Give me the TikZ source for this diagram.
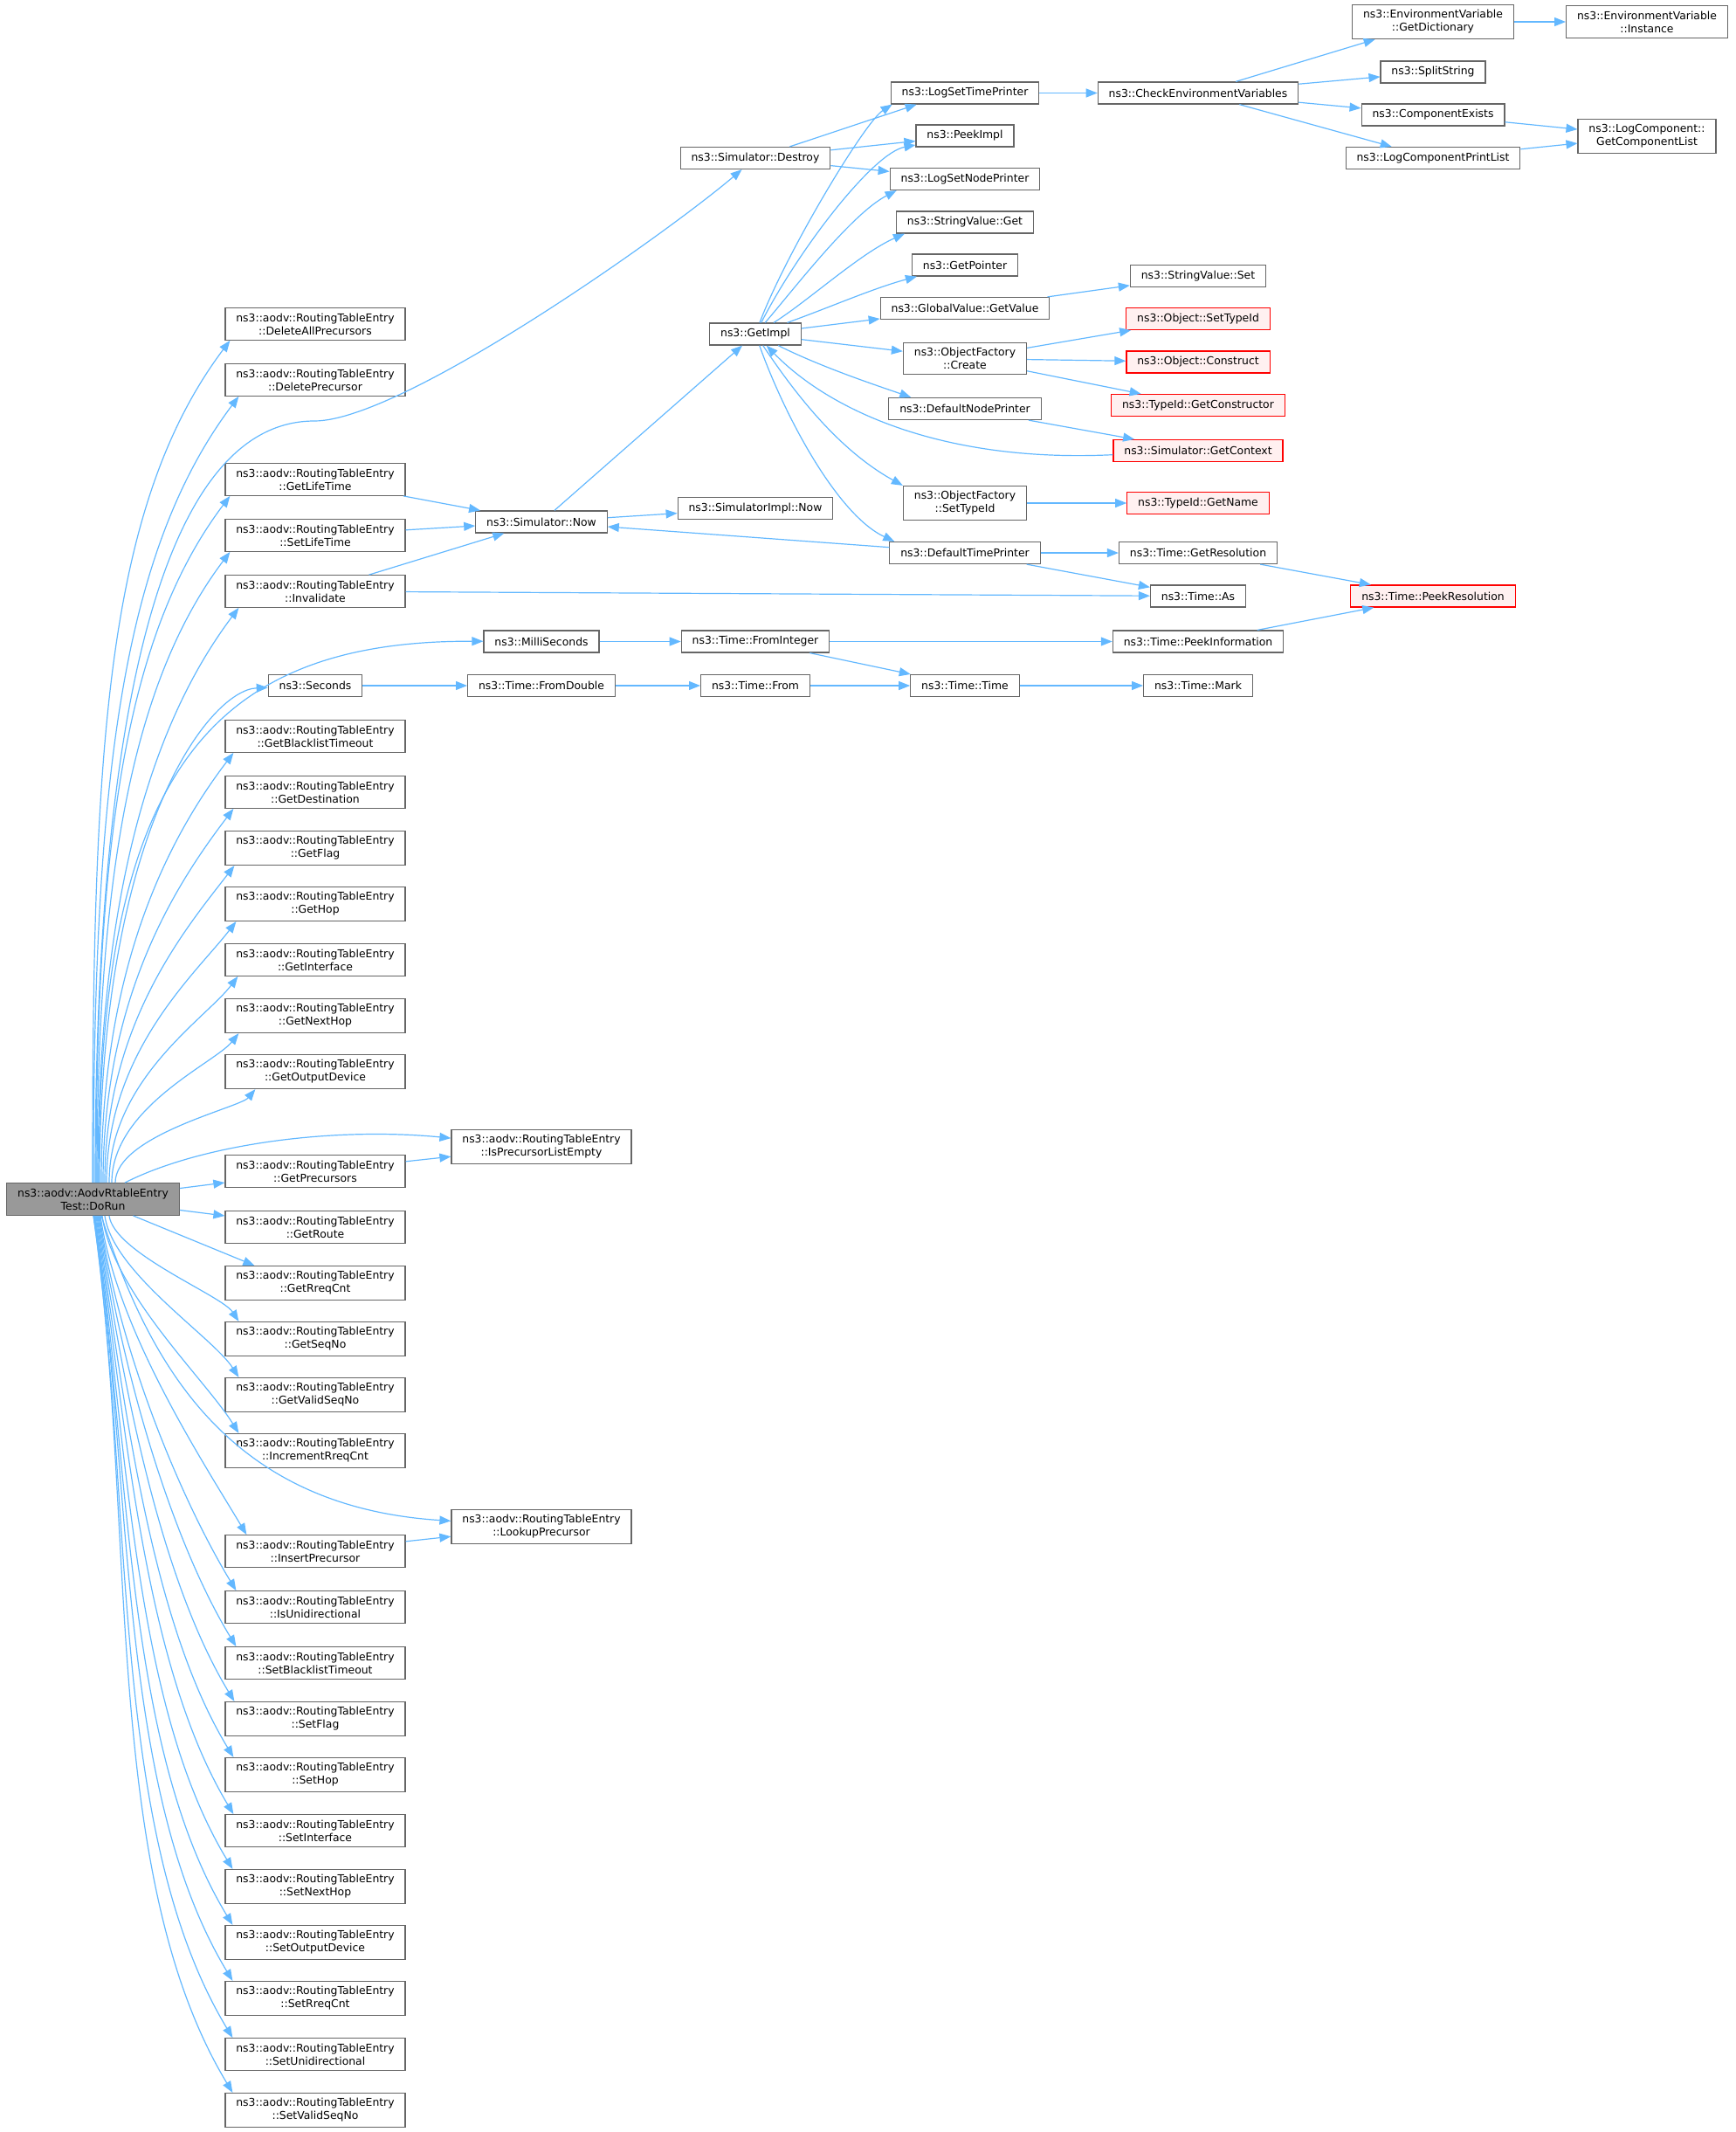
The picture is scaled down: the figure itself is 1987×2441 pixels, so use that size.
\documentclass[tikz,border=0pt]{standalone}
\usepackage{fontspec}
\setmainfont{DejaVu Sans}
\usetikzlibrary{arrows.meta}
\definecolor{edgeblue}{HTML}{63B8FF}
\definecolor{boxgray}{HTML}{666666}
\definecolor{curgray}{HTML}{999999}
\definecolor{redfill}{HTML}{FFF0F0}
\newcommand{\fnsize}{\fontsize{6.2pt}{7.5pt}\selectfont}
\tikzstyle{func} = [rectangle, minimum height=12.5pt, inner xsep=6.2pt, inner ysep=3pt, text centered, align=center, draw=boxgray, line width=0.6pt, fill=white, font=\fnsize]
\tikzstyle{funcred} = [func, draw=red, fill=redfill]
\tikzstyle{current} = [func, fill=curgray]
\tikzstyle{arrow} = [line width=0.6pt, draw=edgeblue, ->, >={Triangle[length=6.5pt,width=5pt]}]

\begin{document}
\begin{tikzpicture}[x=0.5pt, y=-0.5pt, node distance=32pt]
    \useasboundingbox (0,0) rectangle (1987,2441);

    % Nodes
    \node (dorun) [current] at (106.5,1373) {ns3::aodv::AodvRtableEntry\\Test::DoRun};
    \node (delallprec) [func] at (361,371) {ns3::aodv::RoutingTableEntry\\::DeleteAllPrecursors};
    \node (delprec) [func, below of=delallprec] {ns3::aodv::RoutingTableEntry\\::DeletePrecursor};
    \node (getlifetime) [func, below of=delprec, yshift=-25pt] {ns3::aodv::RoutingTableEntry\\::GetLifeTime};
    \node (setlifetime) [func, below of=getlifetime] {ns3::aodv::RoutingTableEntry\\::SetLifeTime};
    \node (invalidate) [func, below of=setlifetime] {ns3::aodv::RoutingTableEntry\\::Invalidate};
    \node (getblacklist) [func, below of=invalidate, yshift=-51pt] {ns3::aodv::RoutingTableEntry\\::GetBlacklistTimeout};
    \node (getdest) [func, below of=getblacklist] {ns3::aodv::RoutingTableEntry\\::GetDestination};
    \node (getflag) [func, below of=getdest] {ns3::aodv::RoutingTableEntry\\::GetFlag};
    \node (gethop) [func, below of=getflag] {ns3::aodv::RoutingTableEntry\\::GetHop};
    \node (getiface) [func, below of=gethop] {ns3::aodv::RoutingTableEntry\\::GetInterface};
    \node (getnexthop) [func, below of=getiface] {ns3::aodv::RoutingTableEntry\\::GetNextHop};
    \node (getoutdev) [func, below of=getnexthop] {ns3::aodv::RoutingTableEntry\\::GetOutputDevice};
    \node (getprec) [func, below of=getoutdev, yshift=-25pt] {ns3::aodv::RoutingTableEntry\\::GetPrecursors};
    \node (getroute) [func, below of=getprec] {ns3::aodv::RoutingTableEntry\\::GetRoute};
    \node (getrreqcnt) [func, below of=getroute] {ns3::aodv::RoutingTableEntry\\::GetRreqCnt};
    \node (getseqno) [func, below of=getrreqcnt] {ns3::aodv::RoutingTableEntry\\::GetSeqNo};
    \node (getvalidseqno) [func, below of=getseqno] {ns3::aodv::RoutingTableEntry\\::GetValidSeqNo};
    \node (incrreqcnt) [func, below of=getvalidseqno] {ns3::aodv::RoutingTableEntry\\::IncrementRreqCnt};
    \node (insertprec) [func, below of=incrreqcnt, yshift=-25.5pt] {ns3::aodv::RoutingTableEntry\\::InsertPrecursor};
    \node (isunidir) [func, below of=insertprec] {ns3::aodv::RoutingTableEntry\\::IsUnidirectional};
    \node (setblacklist) [func, below of=isunidir] {ns3::aodv::RoutingTableEntry\\::SetBlacklistTimeout};
    \node (setflag) [func, below of=setblacklist] {ns3::aodv::RoutingTableEntry\\::SetFlag};
    \node (sethop) [func, below of=setflag] {ns3::aodv::RoutingTableEntry\\::SetHop};
    \node (setiface) [func, below of=sethop] {ns3::aodv::RoutingTableEntry\\::SetInterface};
    \node (setnexthop) [func, below of=setiface] {ns3::aodv::RoutingTableEntry\\::SetNextHop};
    \node (setoutdev) [func, below of=setnexthop] {ns3::aodv::RoutingTableEntry\\::SetOutputDevice};
    \node (setrreqcnt) [func, below of=setoutdev] {ns3::aodv::RoutingTableEntry\\::SetRreqCnt};
    \node (setunidir) [func, below of=setrreqcnt] {ns3::aodv::RoutingTableEntry\\::SetUnidirectional};
    \node (setvalidseqno) [func, below of=setunidir] {ns3::aodv::RoutingTableEntry\\::SetValidSeqNo};
    \node (seconds) [func] at (361,785) {ns3::Seconds};

    \node (isprecempty) [func] at (620,1313) {ns3::aodv::RoutingTableEntry\\::IsPrecursorListEmpty};
    \node (lookupprec) [func] at (620,1748) {ns3::aodv::RoutingTableEntry\\::LookupPrecursor};
    \node (simnow) [func] at (620,597.5) {ns3::Simulator::Now};
    \node (millis) [func] at (620,734.5) {ns3::MilliSeconds};
    \node (fromdouble) [func] at (620,785) {ns3::Time::FromDouble};

    \node (destroy) [func] at (865,181) {ns3::Simulator::Destroy};
    \node (getimpl) [func] at (865,382.5) {ns3::GetImpl};
    \node (implnow) [func] at (865,582) {ns3::SimulatorImpl::Now};
    \node (frominteger) [func] at (865,734.5) {ns3::Time::FromInteger};
    \node (timefrom) [func] at (865,785) {ns3::Time::From};

    \node (logtime) [func] at (1105,106.5) {ns3::LogSetTimePrinter};
    \node (peekimpl) [func] at (1105,155.5) {ns3::PeekImpl};
    \node (lognode) [func] at (1105,205) {ns3::LogSetNodePrinter};
    \node (strget) [func] at (1105,254.5) {ns3::StringValue::Get};
    \node (getpointer) [func] at (1105,303.5) {ns3::GetPointer};
    \node (getvalue) [func] at (1105,353) {ns3::GlobalValue::GetValue};
    \node (ofcreate) [func] at (1105,410.5) {ns3::ObjectFactory\\::Create};
    \node (defnode) [func] at (1105,468) {ns3::DefaultNodePrinter};
    \node (ofsettypeid) [func] at (1105,576) {ns3::ObjectFactory\\::SetTypeId};
    \node (deftime) [func] at (1105,633) {ns3::DefaultTimePrinter};
    \node (timetime) [func] at (1105,785) {ns3::Time::Time};

    \node (checkenv) [func] at (1372,106.5) {ns3::CheckEnvironmentVariables};
    \node (strset) [func] at (1372,316) {ns3::StringValue::Set};
    \node (objsettypeid) [funcred] at (1372,365) {ns3::Object::SetTypeId};
    \node (objconstruct) [funcred] at (1372,414.5) {ns3::Object::Construct};
    \node (getctor) [funcred] at (1372,464) {ns3::TypeId::GetConstructor};
    \node (getcontext) [funcred] at (1372,516) {ns3::Simulator::GetContext};
    \node (getname) [funcred] at (1372,576) {ns3::TypeId::GetName};
    \node (getres) [func] at (1372,633) {ns3::Time::GetResolution};
    \node (timeas) [func] at (1372,682.5) {ns3::Time::As};
    \node (peekinfo) [func] at (1372,734.5) {ns3::Time::PeekInformation};
    \node (timemark) [func] at (1372,785) {ns3::Time::Mark};

    \node (getdict) [func] at (1641,25) {ns3::EnvironmentVariable\\::GetDictionary};
    \node (splitstr) [func] at (1641,82.5) {ns3::SplitString};
    \node (compexists) [func] at (1641,131.5) {ns3::ComponentExists};
    \node (logprintlist) [func] at (1641,181) {ns3::LogComponentPrintList};
    \node (peekres) [funcred] at (1641,682.5) {ns3::Time::PeekResolution};
    \node (envinstance) [func] at (1886,25) {ns3::EnvironmentVariable\\::Instance};
    \node (getcomplist) [func] at (1886,156) {ns3::LogComponent::\\GetComponentList};

    % Arrows from DoRun, upwards
    \draw [arrow] ([xshift=-0.25pt]dorun.north) .. controls (106,872) and (118,583) .. ([xshift=3pt]delallprec.south west);
    \draw [arrow] ([xshift=0.25pt]dorun.north) .. controls (107,904) and (137,635) .. ([xshift=8pt]delprec.south west);
    \draw [arrow] ([xshift=1.25pt]dorun.north) .. controls (109,800) and (190,482) .. (360,482) .. controls (460,482) and (760,270) .. (destroy);
    \draw [arrow] ([xshift=1.75pt]dorun.north) .. controls (110,961) and (144,726) .. ([xshift=3pt]getlifetime.south west);
    \draw [arrow] ([xshift=2.25pt]dorun.north) .. controls (111,993) and (154,777) .. ([xshift=3pt]setlifetime.south west);
    \draw [arrow] ([xshift=2.75pt]dorun.north) .. controls (112,1025) and (174,828) .. ([xshift=8pt]invalidate.south west);
    \draw [arrow] ([xshift=3.25pt]dorun.north) .. controls (113,900) and (230,733) .. (millis);
    \draw [arrow] ([xshift=3.75pt]dorun.north) .. controls (114,950) and (240,790) .. (seconds);
    \draw [arrow] ([xshift=4.75pt]dorun.north) .. controls (116,1108) and (192,961) .. ([xshift=5pt]getblacklist.south west);
    \draw [arrow] ([xshift=5.75pt]dorun.north) .. controls (118,1140) and (202,1012) .. ([xshift=5pt]getdest.south west);
    \draw [arrow] ([xshift=6.75pt]dorun.north) .. controls (120,1172) and (213,1063) .. ([xshift=5.5pt]getflag.south west);
    \draw [arrow] ([xshift=7.75pt]dorun.north) .. controls (122,1204) and (224,1115) .. ([xshift=6.5pt]gethop.south west);
    \draw [arrow] ([xshift=9.25pt]dorun.north) .. controls (125,1236) and (236,1166) .. ([xshift=7.5pt]getiface.south west);
    \draw [arrow] ([xshift=10.75pt]dorun.north) .. controls (128,1268) and (246,1217) .. ([xshift=8pt]getnexthop.south west);
    \draw [arrow] ([xshift=12.75pt]dorun.north) .. controls (132,1300) and (275,1268) .. ([xshift=17.5pt]getoutdev.south west);
    \draw [arrow] ([xshift=18.25pt]dorun.north) .. controls (230,1310) and (380,1290) .. (isprecempty);

    % Arrows from DoRun, to the right and downwards
    \draw [arrow] (dorun) -- (getprec);
    \draw [arrow] (dorun) -- (getroute);
    \draw [arrow] (dorun) -- ([xshift=17pt]getrreqcnt.north west);
    \draw [arrow] ([xshift=9.25pt]dorun.south) .. controls (131,1435) and (254,1483) .. ([xshift=8pt]getseqno.north west);
    \draw [arrow] ([xshift=6.75pt]dorun.south) .. controls (129,1457) and (244,1531) .. ([xshift=8pt]getvalidseqno.north west);
    \draw [arrow] ([xshift=5.25pt]dorun.south) .. controls (129,1480) and (235,1579) .. ([xshift=8pt]incrreqcnt.north west);
    \draw [arrow] ([xshift=4.75pt]dorun.south) .. controls (170,1560) and (260,1725) .. (lookupprec);
    \draw [arrow] ([xshift=4.25pt]dorun.south) .. controls (133,1520) and (227,1665) .. ([xshift=12.5pt]insertprec.north west);
    \draw [arrow] ([xshift=3.75pt]dorun.south) .. controls (135,1542) and (205,1713) .. ([xshift=6.5pt]isunidir.north west);
    \draw [arrow] ([xshift=3.25pt]dorun.south) .. controls (138,1565) and (195,1761) .. ([xshift=6.5pt]setblacklist.north west);
    \draw [arrow] ([xshift=2.75pt]dorun.south) .. controls (140,1587) and (184,1809) .. ([xshift=5.5pt]setflag.north west);
    \draw [arrow] ([xshift=2.25pt]dorun.south) .. controls (142,1610) and (173,1857) .. ([xshift=5pt]sethop.north west);
    \draw [arrow] ([xshift=1.75pt]dorun.south) .. controls (144,1632) and (164,1905) .. ([xshift=5pt]setiface.north west);
    \draw [arrow] ([xshift=1.25pt]dorun.south) .. controls (146,1654) and (153,1953) .. ([xshift=4.5pt]setnexthop.north west);
    \draw [arrow] ([xshift=0.75pt]dorun.south) .. controls (149,1677) and (143,2001) .. ([xshift=4.5pt]setoutdev.north west);
    \draw [arrow] ([xshift=0.75pt]dorun.south) .. controls (152,1699) and (134,2049) .. ([xshift=4.5pt]setrreqcnt.north west);
    \draw [arrow] ([xshift=0.25pt]dorun.south) .. controls (154,1722) and (124,2097) .. ([xshift=4.5pt]setunidir.north west);
    \draw [arrow] ([xshift=0.25pt]dorun.south) .. controls (157,1744) and (115,2145) .. ([xshift=4.5pt]setvalidseqno.north west);

    % Arrows between callees
    \draw [arrow] (getprec) -- (isprecempty);
    \draw [arrow] (insertprec) -- (lookupprec);
    \draw [arrow] (getlifetime) -- (simnow);
    \draw [arrow] (setlifetime) -- (simnow);
    \draw [arrow] (invalidate) -- (simnow);
    \draw [arrow] (invalidate) -- (timeas);
    \draw [arrow] (simnow) -- (getimpl);
    \draw [arrow] (simnow) -- (implnow);
    \draw [arrow] (deftime) -- (simnow);
    \draw [arrow] (destroy) -- ([xshift=15pt]logtime.south west);
    \draw [arrow] (destroy) -- (peekimpl);
    \draw [arrow] (destroy) -- (lognode);

    % Arrows from GetImpl
    \draw [arrow] (getimpl) .. controls (900,290) and (990,140) .. ([xshift=1pt]logtime.south west);
    \draw [arrow] (getimpl) .. controls (915,285) and (1000,175) .. (peekimpl);
    \draw [arrow] (getimpl) .. controls (910,330) and (975,245) .. ([xshift=4pt]lognode.south west);
    \draw [arrow] (getimpl) .. controls (925,345) and (985,290) .. ([xshift=5pt]strget.south west);
    \draw [arrow] (getimpl) .. controls (950,352) and (1000,330) .. ([xshift=3pt]getpointer.south west);
    \draw [arrow] (getimpl) -- (getvalue);
    \draw [arrow] (getimpl) -- (ofcreate);
    \draw [arrow] (getimpl) .. controls (940,420) and (1000,440) .. ([xshift=13pt]defnode.north west);
    \draw [arrow] (getimpl) .. controls (910,450) and (960,515) .. (ofsettypeid.north west);
    \draw [arrow] (getimpl) .. controls (900,480) and (960,590) .. ([xshift=3pt]deftime.north west);
    \draw [arrow] (getcontext) .. controls (1080,530) and (950,470) .. (getimpl);

    \draw [arrow] (getvalue) -- (strset);
    \draw [arrow] (ofcreate) -- (objsettypeid);
    \draw [arrow] (ofcreate) -- (objconstruct);
    \draw [arrow] (ofcreate) -- (getctor);
    \draw [arrow] (defnode) -- (getcontext);
    \draw [arrow] (ofsettypeid) -- (getname);
    \draw [arrow] (deftime) -- (getres);
    \draw [arrow] (deftime) -- (timeas);
    \draw [arrow] (getres) -- (peekres);
    \draw [arrow] (peekinfo) -- (peekres);

    % Log setup
    \draw [arrow] (logtime) -- (checkenv);
    \draw [arrow] (checkenv) -- (getdict);
    \draw [arrow] (checkenv) -- (splitstr);
    \draw [arrow] (checkenv) -- (compexists);
    \draw [arrow] (checkenv) -- (logprintlist);
    \draw [arrow] (getdict) -- (envinstance);
    \draw [arrow] (compexists) -- (getcomplist);
    \draw [arrow] (logprintlist) -- (getcomplist);

    % Time conversions
    \draw [arrow] (millis) -- (frominteger);
    \draw [arrow] (frominteger) -- (peekinfo);
    \draw [arrow] (frominteger) -- (timetime);
    \draw [arrow] (seconds) -- (fromdouble);
    \draw [arrow] (fromdouble) -- (timefrom);
    \draw [arrow] (timefrom) -- (timetime);
    \draw [arrow] (timetime) -- (timemark);
\end{tikzpicture}
\end{document}
